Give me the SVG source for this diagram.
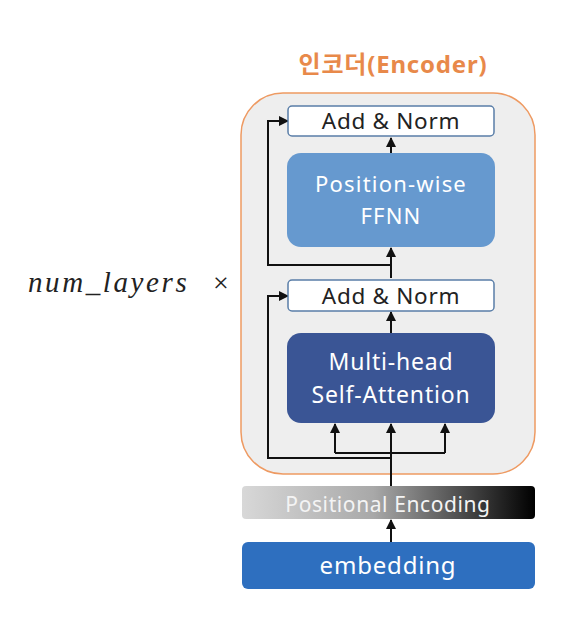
<svg xmlns="http://www.w3.org/2000/svg" width="588" height="618" viewBox="0 0 588 618">
<style>
.t{font-family:"Noto Sans","Noto Sans CJK KR",sans-serif;text-anchor:middle}
.w{fill:#ffffff}
.ln{fill:none;stroke:#111;stroke-width:2}
.norm{fill:#ffffff;stroke:#5a7ea8;stroke-width:1.5}
.an{font-size:22.5px;letter-spacing:0.7px;fill:#222}
</style>
<defs>
<marker id="ah" viewBox="0 0 10 10" refX="9" refY="5" markerWidth="5" markerHeight="5" orient="auto"><path d="M0,0L10,5L0,10z" fill="#111"/></marker>
<linearGradient id="pe" x1="0" y1="0" x2="1" y2="0"><stop offset="0" stop-color="#d8d8d8"/><stop offset="0.45" stop-color="#a8a8a8"/><stop offset="1" stop-color="#000"/></linearGradient>
</defs>
<rect width="588" height="618" fill="#ffffff"/>
<g id="encoder">
<rect x="241" y="93" width="294" height="381" rx="42" fill="#eeeeee" stroke="#ee9a62" stroke-width="1.5"/>
<text class="t" x="393" y="73" font-size="24" font-weight="bold" letter-spacing="0.8" fill="#e8894a">인코더(Encoder)</text>
</g>
<g id="label"><text x="28" y="292" font-family="'Liberation Serif',serif" font-size="29" font-style="italic" letter-spacing="2.6" fill="#222">num_layers</text><text x="213" y="292" font-family="'Liberation Serif',serif" font-size="28" fill="#222">×</text></g>
<g id="connectors">
<path class="ln" d="M391,542V520" marker-end="url(#ah)"/>
<path class="ln" d="M391,486V424"/>
<path class="ln" d="M391,454V424" marker-end="url(#ah)"/>
<path class="ln" d="M335,453H445"/>
<path class="ln" d="M335,453V424" marker-end="url(#ah)"/>
<path class="ln" d="M445,453V424" marker-end="url(#ah)"/>
<path class="ln" d="M391,458H268V296H288" marker-end="url(#ah)"/>
<path class="ln" d="M391,333V312" marker-end="url(#ah)"/>
<path class="ln" d="M391,278V248" marker-end="url(#ah)"/>
<path class="ln" d="M391,265H268V121H288" marker-end="url(#ah)"/>
<path class="ln" d="M391,153V138" marker-end="url(#ah)"/>
</g>
<g id="addnorm2"><rect class="norm" x="288" y="106" width="206" height="30" rx="4"/><text class="t an" x="391" y="129">Add &amp; Norm</text></g>
<g id="ffnn"><rect x="287" y="153" width="208" height="94" rx="14" fill="#6699cf"/><text class="t w" x="391" y="192" font-size="22" letter-spacing="1.2">Position-wise</text><text class="t w" x="391" y="224" font-size="22" letter-spacing="1.2">FFNN</text></g>
<g id="addnorm1"><rect class="norm" x="288" y="280" width="206" height="31" rx="4"/><text class="t an" x="391" y="304">Add &amp; Norm</text></g>
<g id="mhsa"><rect x="287" y="333" width="208" height="90" rx="14" fill="#3a5595"/><text class="t w" x="391" y="370" font-size="23" letter-spacing="0.8">Multi-head</text><text class="t w" x="391" y="403" font-size="23" letter-spacing="0.8">Self-Attention</text></g>
<g id="posenc"><rect x="242" y="486" width="293" height="33" rx="4" fill="url(#pe)"/><text class="t" x="388" y="512" font-size="21" letter-spacing="0.6" fill="#f4f4f4">Positional Encoding</text></g>
<g id="embedding"><rect x="242" y="542" width="293" height="47" rx="6" fill="#2e6fbf"/><text class="t w" x="388" y="574" font-size="24" letter-spacing="0.8">embedding</text></g>
</svg>
